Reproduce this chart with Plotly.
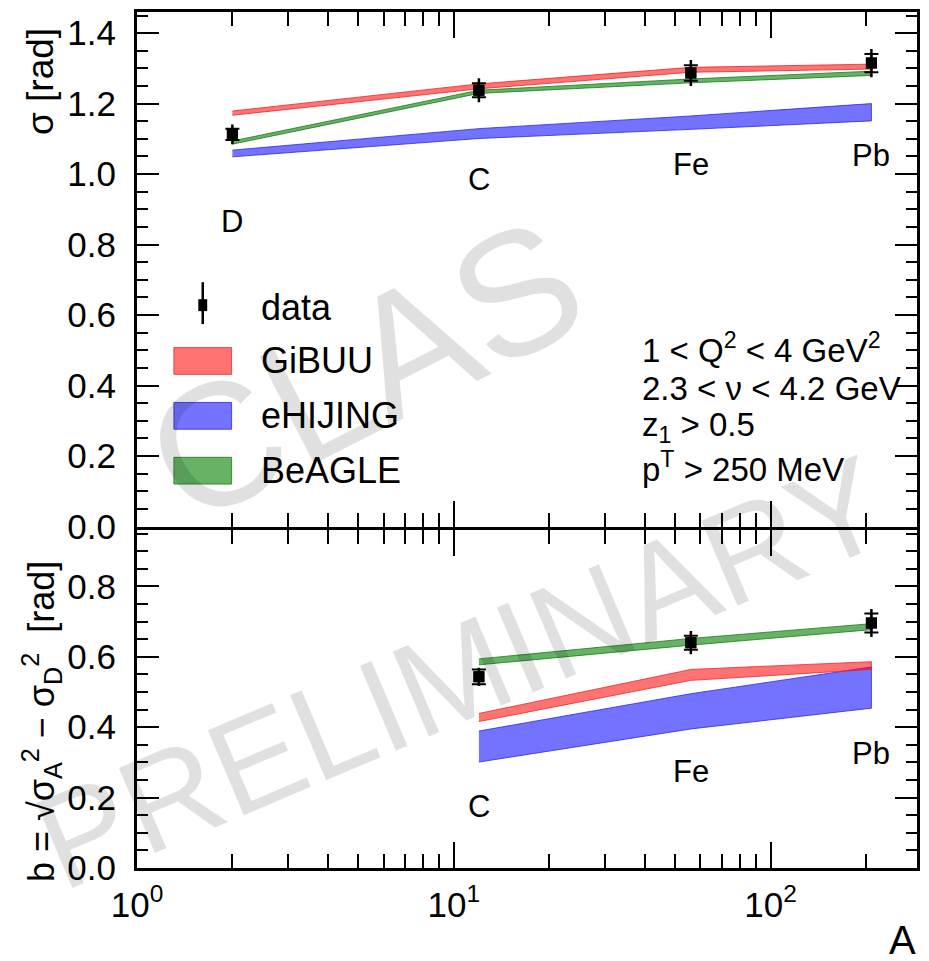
import numpy as np
import plotly.graph_objects as go

# ---------------- data ----------------
nuclei_top = ["D", "C", "Fe", "Pb"]
A_top = [2, 12, 56, 208]
sigma_data = [1.113, 1.238, 1.287, 1.315]
sigma_stat = [0.028, 0.034, 0.037, 0.040]
sigma_sys = [0.016, 0.020, 0.022, 0.026]
gibuu_top_lo = [1.167, 1.242, 1.289, 1.298]
gibuu_top_hi = [1.179, 1.256, 1.303, 1.312]
ehijing_top_lo = [1.049, 1.101, 1.127, 1.151]
ehijing_top_hi = [1.068, 1.129, 1.165, 1.200]
beagle_top_lo = [1.085, 1.229, 1.259, 1.280]
beagle_top_hi = [1.094, 1.238, 1.270, 1.292]
label_y_top = [0.866, 0.986, 1.027, 1.052]

nuclei_bot = ["C", "Fe", "Pb"]
A_bot = [12, 56, 208]
b_data = [0.543, 0.640, 0.696]
b_stat = [0.026, 0.033, 0.040]
b_sys = [0.021, 0.020, 0.027]
gibuu_bot_lo = [0.416, 0.533, 0.564]
gibuu_bot_hi = [0.439, 0.564, 0.586]
ehijing_bot_lo = [0.301, 0.395, 0.454]
ehijing_bot_hi = [0.389, 0.495, 0.571]
beagle_bot_lo = [0.577, 0.633, 0.677]
beagle_bot_hi = [0.594, 0.652, 0.694]
label_y_bot = [0.176, 0.273, 0.326]

x_tickvals = [1, 10, 100]
x_ticktext = ["10<sup>0</sup>", "10<sup>1</sup>", "10<sup>2</sup>"]
x_minor = [2, 3, 4, 5, 6, 7, 8, 9, 20, 30, 40, 50, 60, 70, 80, 90, 200, 300]

cuts_text = ["1 &lt; Q<sup>2</sup> &lt; 4 GeV<sup>2</sup>",
             "2.3 &lt; ν &lt; 4.2 GeV",
             "z<sub>1</sub> &gt; 0.5",
             "p<sup>T</sup> &gt; 250 MeV"]
legend_names = ["GiBUU", "eHIJING", "BeAGLE"]

RED_FILL = "rgba(255,0,0,0.55)"
RED_LINE = "rgba(230,40,40,0.8)"
BLUE_FILL = "rgba(0,0,255,0.55)"
BLUE_LINE = "rgba(40,40,230,0.8)"
GREEN_FILL = "rgba(0,128,0,0.6)"
GREEN_LINE = "rgba(30,120,30,0.8)"

FONT = "Liberation Sans, Arial, Helvetica, sans-serif"
WM_FONT = "Liberation Sans Narrow, Arial Narrow, Liberation Sans, sans-serif"

fig = go.Figure()


def band(x, lo, hi, fill, line, xa, ya):
    fig.add_trace(go.Scatter(
        x=list(x) + list(x)[::-1], y=list(hi) + list(lo)[::-1],
        fill="toself", fillcolor=fill, mode="lines",
        line=dict(color=line, width=1), xaxis=xa, yaxis=ya,
        showlegend=False, hoverinfo="skip"))


def points(x, y, stat, sys, xa, ya):
    fig.add_trace(go.Scatter(
        x=x, y=y, mode="markers", marker=dict(symbol="square", size=11, color="black"),
        error_y=dict(type="data", array=stat, color="black", thickness=2.5, width=0),
        xaxis=xa, yaxis=ya, showlegend=False))
    fig.add_trace(go.Scatter(
        x=x, y=y, mode="markers", marker=dict(symbol="square", size=11, color="black"),
        error_y=dict(type="data", array=sys, color="black", thickness=2, width=7),
        xaxis=xa, yaxis=ya, showlegend=False))


# top panel
band(A_top, ehijing_top_lo, ehijing_top_hi, BLUE_FILL, BLUE_LINE, "x", "y")
band(A_top, gibuu_top_lo, gibuu_top_hi, RED_FILL, RED_LINE, "x", "y")
band(A_top, beagle_top_lo, beagle_top_hi, GREEN_FILL, GREEN_LINE, "x", "y")
points(A_top, sigma_data, sigma_stat, sigma_sys, "x", "y")

# bottom panel
band(A_bot, ehijing_bot_lo, ehijing_bot_hi, BLUE_FILL, BLUE_LINE, "x2", "y2")
band(A_bot, gibuu_bot_lo, gibuu_bot_hi, RED_FILL, RED_LINE, "x2", "y2")
band(A_bot, beagle_bot_lo, beagle_bot_hi, GREEN_FILL, GREEN_LINE, "x2", "y2")
points(A_bot, b_data, b_stat, b_sys, "x2", "y2")

# ---------------- layout ----------------
W, H = 929, 961
L, R, T, B = 137, 9, 12, 93
PH = 856.0
split = 340 / PH
gap = 1.5 / PH

common_x = dict(type="log", range=[0, 2.462], showline=True, linewidth=3, linecolor="black",
                mirror="allticks", ticks="inside", ticklen=26, tickwidth=2, tickcolor="black",
                showgrid=False, zeroline=False, tickvals=x_tickvals,
                minor=dict(tickvals=x_minor, ticks="inside", ticklen=14, tickwidth=2,
                           tickcolor="black", showgrid=False))
common_y = dict(showline=True, linewidth=3, linecolor="black", mirror="allticks",
                ticks="inside", ticklen=22, tickwidth=2, tickcolor="black",
                showgrid=False, zeroline=False, dtick=0.2, tick0=0, tickformat=".1f",
                tickfont=dict(family=FONT, size=35, color="black"), ticklabelstandoff=11,
                minor=dict(dtick=0.05, ticks="inside", ticklen=11, tickwidth=2,
                           tickcolor="black", showgrid=False))

fig.update_layout(
    width=W, height=H, margin=dict(l=L, r=R, t=T, b=B),
    paper_bgcolor="white", plot_bgcolor="white", showlegend=False,
    font=dict(family=FONT, color="black"),
    xaxis=dict(**common_x, anchor="y", showticklabels=False, matches="x2"),
    xaxis2=dict(**common_x, anchor="y2", ticktext=x_ticktext,
                tickfont=dict(family=FONT, size=35, color="black"), ticklabelstandoff=4),
    yaxis=dict(**common_y, domain=[split + gap, 1], range=[0, 1.46], anchor="x"),
    yaxis2=dict(**common_y, domain=[0, split - gap], range=[0, 0.9615], anchor="x2"),
)

ann = []
# nucleus labels
for name, a, yy in zip(nuclei_top, A_top, label_y_top):
    ann.append(dict(x=np.log10(a), y=yy, xref="x", yref="y", text=name, showarrow=False,
                    font=dict(size=31, family=FONT), xanchor="center", yanchor="middle"))
for name, a, yy in zip(nuclei_bot, A_bot, label_y_bot):
    ann.append(dict(x=np.log10(a), y=yy, xref="x2", yref="y2", text=name, showarrow=False,
                    font=dict(size=31, family=FONT), xanchor="center", yanchor="middle"))

# cuts text
cut_y = [0.3470, 0.2674, 0.1938, 0.1163]
for t, yy in zip(cuts_text, cut_y):
    ann.append(dict(x=0.645, y=yy, xref="x domain", yref="y domain", text=t, showarrow=False,
                    font=dict(size=33, family=FONT), xanchor="left", yanchor="middle"))

# legend (manual)
leg_y = [0.3217, 0.2151, 0.1085]
leg_fill = [RED_FILL, BLUE_FILL, GREEN_FILL]
leg_line = [RED_LINE, BLUE_LINE, GREEN_LINE]
shapes = []
for name, yy, fc, lc in zip(legend_names, leg_y, leg_fill, leg_line):
    shapes.append(dict(type="rect", xref="x domain", yref="y domain",
                       x0=0.0473, x1=0.1213, y0=yy - 0.026, y1=yy + 0.026,
                       fillcolor=fc, line=dict(color=lc, width=1)))
    ann.append(dict(x=0.1570, y=yy, xref="x domain", yref="y domain", text=name,
                    showarrow=False, font=dict(size=36, family=FONT),
                    xanchor="left", yanchor="middle"))
shapes.append(dict(type="line", xref="x domain", yref="y domain", x0=0.0843, x1=0.0843,
                   y0=0.3934, y1=0.4748, line=dict(color="black", width=2.5)))
shapes.append(dict(type="rect", xref="x domain", yref="y domain", x0=0.0786, x1=0.0900,
                   y0=0.4186, y1=0.4418, fillcolor="black", line=dict(width=0)))
ann.append(dict(x=0.1570, y=0.4264, xref="x domain", yref="y domain", text="data",
                showarrow=False, font=dict(size=36, family=FONT), xanchor="left", yanchor="middle"))

# axis titles
ann.append(dict(x=-0.123, y=(868 - 82) / PH, xref="paper", yref="paper", text="σ [rad]",
                textangle=-90, showarrow=False, font=dict(size=37, family=FONT),
                xanchor="center", yanchor="middle"))
ann.append(dict(x=-0.123, y=(868 - 722) / PH, xref="paper", yref="paper",
                text="b = √σ<sub>A</sub><sup>2</sup> − σ<sub>D</sub><sup>2</sup>  [rad]",
                textangle=-90, showarrow=False, font=dict(size=36, family=FONT),
                xanchor="center", yanchor="middle"))
ann.append(dict(x=(905 - L) / 783, y=(868 - 940) / PH, xref="paper", yref="paper", text="A",
                showarrow=False, font=dict(size=40, family=FONT), xanchor="center", yanchor="middle"))

# watermark
ann.append(dict(x=(365 - L) / 783, y=(868 - 370) / PH, xref="paper", yref="paper", text="CLAS",
                textangle=-27, showarrow=False, font=dict(size=175, family=WM_FONT,
                                                          color="rgba(0,0,0,0.12)"),
                xanchor="center", yanchor="middle"))
ann.append(dict(x=(462 - L) / 783, y=(868 - 672) / PH, xref="paper", yref="paper",
                text="PRELIMINARY", textangle=-23, showarrow=False,
                font=dict(size=134, family=WM_FONT, color="rgba(0,0,0,0.12)"),
                xanchor="center", yanchor="middle"))

fig.update_layout(annotations=ann, shapes=shapes)
fig.write_html("out.html")
